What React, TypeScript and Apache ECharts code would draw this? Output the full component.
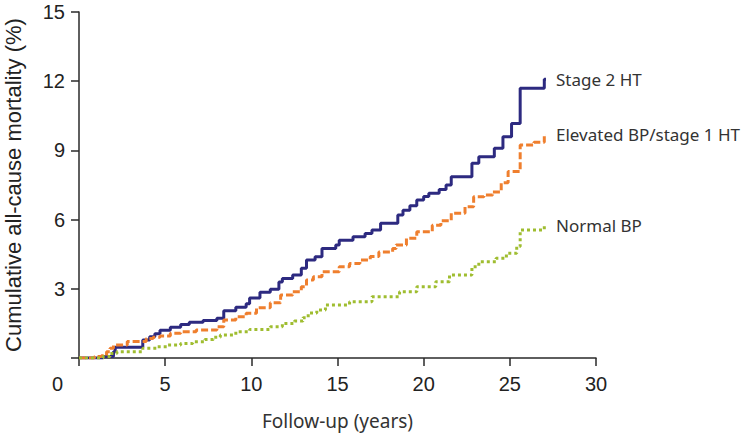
import React, { useEffect, useRef } from "react";
import * as echarts from "echarts";

const seriesNames = ["Stage 2 HT", "Elevated BP/stage 1 HT", "Normal BP"];

const stage2Time = [0, 1.4, 2.0, 2.1, 3.7, 4.1, 4.4, 4.7, 5.3, 5.9, 6.4, 7.2, 8.0, 8.4, 9.1, 9.7, 9.9, 10.5, 11.1, 11.6, 11.8, 12.4, 12.9, 13.2, 13.7, 14.1, 14.9, 15.1, 15.9, 16.6, 17.0, 17.5, 18.5, 18.8, 19.2, 19.6, 20.0, 20.3, 20.9, 21.3, 21.6, 22.8, 23.2, 24.1, 24.6, 25.1, 25.6, 27.0, 27.1];
const stage2Value = [0, 0.06, 0.27, 0.47, 0.78, 0.92, 1.05, 1.2, 1.33, 1.45, 1.55, 1.63, 1.72, 2.05, 2.2, 2.35, 2.6, 2.85, 2.98, 3.3, 3.45, 3.6, 3.89, 4.25, 4.39, 4.75, 4.9, 5.1, 5.26, 5.4, 5.55, 5.84, 6.2, 6.4, 6.6, 6.85, 7.0, 7.14, 7.3, 7.5, 7.86, 8.44, 8.73, 9.09, 9.59, 10.17, 11.69, 12.08, 12.08];

const elevatedTime = [0, 0.9, 1.3, 1.6, 1.8, 2.0, 2.8, 3.9, 4.3, 4.7, 5.3, 5.9, 6.8, 8.0, 8.4, 9.1, 9.7, 10.3, 11.1, 11.7, 12.4, 12.9, 13.2, 13.6, 14.1, 15.1, 15.7, 16.3, 16.9, 17.4, 18.2, 18.4, 19.0, 19.6, 20.5, 21.0, 21.6, 22.4, 22.9, 23.5, 24.0, 24.5, 24.9, 25.6, 26.4, 27.0, 27.1];
const elevatedValue = [0, 0.06, 0.1, 0.27, 0.42, 0.56, 0.71, 0.85, 0.9, 0.95, 1.07, 1.14, 1.21, 1.36, 1.65, 1.79, 1.94, 2.18, 2.4, 2.73, 2.87, 3.09, 3.38, 3.52, 3.74, 3.96, 4.1, 4.25, 4.4, 4.6, 4.75, 4.9, 5.19, 5.47, 5.76, 5.95, 6.28, 6.56, 6.99, 7.07, 7.2, 7.6, 8.08, 9.23, 9.35, 9.67, 9.67];

const normalTime = [0, 1.4, 1.8, 2.2, 3.7, 4.5, 5.1, 5.9, 6.6, 7.3, 7.8, 8.2, 9.1, 9.9, 11.1, 11.8, 12.5, 13.0, 13.3, 13.8, 14.3, 15.7, 17.0, 18.6, 19.6, 20.7, 21.5, 22.8, 23.2, 24.2, 24.8, 25.4, 25.6, 27.0, 27.1];
const normalValue = [0, 0.06, 0.2, 0.27, 0.42, 0.49, 0.56, 0.63, 0.7, 0.8, 0.9, 1.0, 1.14, 1.24, 1.36, 1.5, 1.6, 1.75, 1.95, 2.08, 2.3, 2.44, 2.66, 2.87, 3.09, 3.31, 3.6, 3.96, 4.17, 4.32, 4.54, 4.83, 5.55, 5.76, 5.76];

const xTicks = [0, 5, 10, 15, 20, 25, 30];
const yTicks = [0, 3, 6, 9, 12, 15];

const zip = (t: number[], v: number[]) => t.map((x, i) => [x, v[i]]);

export default function App() {
  const ref = useRef<HTMLDivElement>(null);
  useEffect(() => {
    document.body.style.margin = "0";
    if (!ref.current) return;
    const chart = echarts.init(ref.current, null, { renderer: "svg" });
    const axisColor = "#2a2a2a";
    const labelFont = "Noto Sans";
    const mk = (name: string, data: number[][], color: string, type: any) => ({
      name,
      type: "line",
      step: "end",
      showSymbol: false,
      symbol: "none",
      data,
      lineStyle: { color, width: 3, type },
      itemStyle: { color },
      endLabel: {
        show: true,
        formatter: name,
        distance: 10,
        color: "#333",
        fontFamily: labelFont,
        fontSize: 17,
      },
    });
    chart.setOption({
      animation: false,
      backgroundColor: "#fff",
      grid: {
        left: 79,
        right: 160,
        top: 12,
        bottom: 78,
        containLabel: false,
        outerBoundsMode: "none",
      },
      xAxis: {
        type: "value",
        min: xTicks[0],
        max: xTicks[xTicks.length - 1],
        interval: 5,
        name: "Follow-up (years)",
        nameLocation: "middle",
        nameGap: 53,
        nameTextStyle: { fontFamily: labelFont, fontSize: 19, color: "#333" },
        axisLine: { show: true, onZero: false, lineStyle: { color: axisColor, width: 1.5 } },
        axisTick: { show: true, inside: false, length: 8, lineStyle: { color: axisColor, width: 1.5 } },
        axisLabel: {
          margin: 16,
          fontFamily: "Liberation Sans",
          fontSize: 20,
          color: "#222",
          formatter: (v: number) => (v === 0 ? "" : String(v)),
        },
        splitLine: { show: false },
      },
      yAxis: {
        type: "value",
        min: yTicks[0],
        max: yTicks[yTicks.length - 1],
        interval: 3,
        name: "Cumulative all-cause mortality (%)",
        nameLocation: "middle",
        nameGap: 55,
        nameTextStyle: { fontFamily: "Liberation Sans", fontSize: 22, color: "#222" },
        axisLine: { show: true, lineStyle: { color: axisColor, width: 1.5 } },
        axisTick: { show: true, inside: false, length: 8, lineStyle: { color: axisColor, width: 1.5 } },
        axisLabel: {
          margin: 14,
          fontFamily: "Liberation Sans",
          fontSize: 20,
          color: "#222",
          formatter: (v: number) => (v === 0 ? "" : String(v)),
        },
        splitLine: { show: false },
      },
      graphic: [
        {
          type: "text",
          left: 52,
          top: 374,
          style: { text: "0", font: '20px "Liberation Sans"', fill: "#222" },
        },
      ],
      series: [
        mk(seriesNames[0], zip(stage2Time, stage2Value), "#2d2a80", "solid"),
        mk(seriesNames[1], zip(elevatedTime, elevatedValue), "#ef7f2e", [7, 3]),
        mk(seriesNames[2], zip(normalTime, normalValue), "#9fbd30", [3, 3]),
      ],
    });
    return () => chart.dispose();
  }, []);
  return <div ref={ref} style={{ width: 756, height: 436 }} />;
}
